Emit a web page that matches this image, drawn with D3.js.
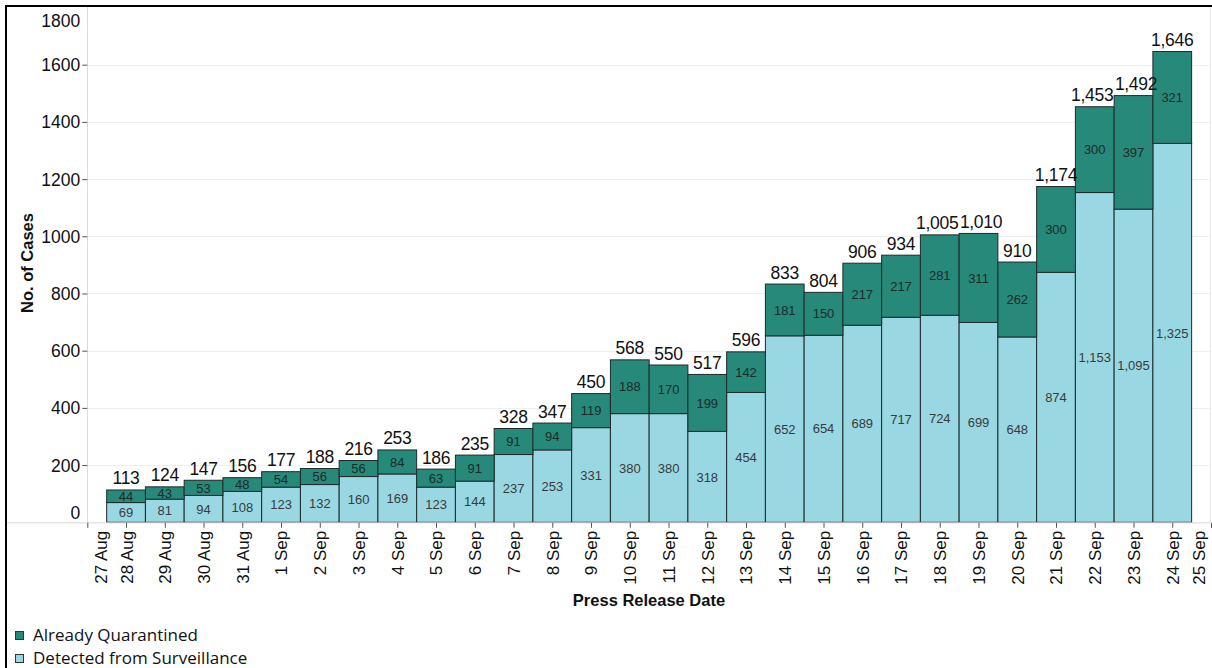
<!DOCTYPE html>
<html><head><meta charset="utf-8">
<script src="https://cdn.jsdelivr.net/npm/d3@7/dist/d3.min.js"></script>
<style>
body{margin:0;background:#fff;}
svg{display:block;font-family:"Liberation Sans",Arial,sans-serif;}
</style>
</head><body>
<svg id="c" width="1212" height="668"></svg>
<script>
const dates = ["2020-08-28","2020-08-29","2020-08-30","2020-08-31","2020-09-01","2020-09-02","2020-09-03","2020-09-04","2020-09-05","2020-09-06","2020-09-07","2020-09-08","2020-09-09","2020-09-10","2020-09-11","2020-09-12","2020-09-13","2020-09-14","2020-09-15","2020-09-16","2020-09-17","2020-09-18","2020-09-19","2020-09-20","2020-09-21","2020-09-22","2020-09-23","2020-09-24"];
const quarantined = [44,43,53,48,54,56,56,84,63,91,91,94,119,188,170,199,142,181,150,217,217,281,311,262,300,300,397,321];
const surveillance = [69,81,94,108,123,132,160,169,123,144,237,253,331,380,380,318,454,652,654,689,717,724,699,648,874,1153,1095,1325];
const yTicks = [0,200,400,600,800,1000,1200,1400,1600,1800];
const xTickDates = ["2020-08-27","2020-08-28","2020-08-29","2020-08-30","2020-08-31","2020-09-01","2020-09-02","2020-09-03","2020-09-04","2020-09-05","2020-09-06","2020-09-07","2020-09-08","2020-09-09","2020-09-10","2020-09-11","2020-09-12","2020-09-13","2020-09-14","2020-09-15","2020-09-16","2020-09-17","2020-09-18","2020-09-19","2020-09-20","2020-09-21","2020-09-22","2020-09-23","2020-09-24","2020-09-25"];
const xTickLabels = ["27 Aug","28 Aug","29 Aug","30 Aug","31 Aug","1 Sep","2 Sep","3 Sep","4 Sep","5 Sep","6 Sep","7 Sep","8 Sep","9 Sep","10 Sep","11 Sep","12 Sep","13 Sep","14 Sep","15 Sep","16 Sep","17 Sep","18 Sep","19 Sep","20 Sep","21 Sep","22 Sep","23 Sep","24 Sep","25 Sep"];
const seriesNames = ["Already Quarantined","Detected from Surveillance"];
const seriesColors = ["#26897a","#99d8e2"];

const svg = d3.select("#c");
const parse = d3.utcParse("%Y-%m-%d");
const fmt = d3.format(",");

const x = d3.scaleUtc().domain([parse(xTickDates[0]), parse(xTickDates[xTickDates.length-1])]).range([87.3, 1211]);
const y = d3.scaleLinear().domain([0,1800]).range([522.3, 7.5]);
const dayW = x(parse("2020-08-29")) - x(parse("2020-08-28"));

// frame
svg.append("line").attr("x1",5).attr("x2",1212).attr("y1",6).attr("y2",6).attr("stroke","#000").attr("stroke-width",2);
svg.append("line").attr("x1",6).attr("x2",6).attr("y1",5).attr("y2",668).attr("stroke","#000").attr("stroke-width",2);

// gridlines
svg.append("g").selectAll("line").data(yTicks.filter(v=>v>0 && v<1800)).join("line")
  .attr("x1",87.3).attr("x2",1211).attr("y1",d=>Math.round(y(d))+0.5).attr("y2",d=>Math.round(y(d))+0.5)
  .attr("stroke","#efefef").attr("stroke-width",1);

// axis lines
svg.append("line").attr("x1",87.5).attr("x2",87.5).attr("y1",7).attr("y2",522.3).attr("stroke","#dcdcdc");
svg.append("line").attr("x1",1210.5).attr("x2",1210.5).attr("y1",7).attr("y2",522.3).attr("stroke","#e8e8e8");

// bars
const data = dates.map((d,i)=>({date:parse(d), q:quarantined[i], s:surveillance[i], t:quarantined[i]+surveillance[i]}));
const bars = svg.append("g");
bars.selectAll("rect.s").data(data).join("rect").attr("class","s")
  .attr("x",d=>x(d.date)-dayW/2).attr("width",dayW)
  .attr("y",d=>y(d.s)).attr("height",d=>y(0)-y(d.s))
  .attr("fill",seriesColors[1]).attr("stroke","#1e2b2a").attr("stroke-width",1);
bars.selectAll("rect.q").data(data).join("rect").attr("class","q")
  .attr("x",d=>x(d.date)-dayW/2).attr("width",dayW)
  .attr("y",d=>y(d.t)).attr("height",d=>y(d.s)-y(d.t))
  .attr("fill",seriesColors[0]).attr("stroke","#1e2b2a").attr("stroke-width",1);

// baseline
svg.append("line").attr("x1",7).attr("x2",1211).attr("y1",522.8).attr("y2",522.8).attr("stroke","#d6d6d6");

// inner labels
const lab = svg.append("g").attr("font-size",13).attr("text-anchor","middle");
lab.selectAll("text.s").data(data).join("text")
  .attr("x",d=>x(d.date)).attr("y",d=>(y(0)+y(d.s))/2).attr("dy","0.36em")
  .attr("fill","#3a3a3a").text(d=>fmt(d.s));
lab.selectAll("text.q").data(data).join("text")
  .attr("x",d=>x(d.date)).attr("y",d=>(y(d.s)+y(d.t))/2).attr("dy","0.36em")
  .attr("fill","#1c2b29").text(d=>fmt(d.q));

// totals
const totals = svg.append("g").attr("font-size",17.5).attr("text-anchor","middle").attr("letter-spacing","-0.3px")
  .selectAll("text").data(data).join("text")
  .attr("x",d=>x(d.date)).attr("y",d=>y(d.t)-5.5).attr("fill","#111").text(d=>fmt(d.t));
// nudge apart adjacent totals that would collide
const tn = totals.nodes();
const shift = tn.map(()=>0);
for (let i=0;i<tn.length-1;i++){
  const a=tn[i], b=tn[i+1];
  const ya=+a.getAttribute("y"), yb=+b.getAttribute("y");
  if (Math.abs(ya-yb) > 15) continue;
  const wa=a.getComputedTextLength(), wb=b.getComputedTextLength();
  const xa=+a.getAttribute("x")+shift[i], xb=+b.getAttribute("x")+shift[i+1];
  const ov=(xa+wa/2+1.5)-(xb-wb/2);
  if (ov>0){ shift[i]-=ov/2; shift[i+1]+=ov/2; }
}
totals.attr("dx",(d,i)=>shift[i]);

// y axis
const yAxis = svg.append("g").attr("transform","translate(87.3,0)")
  .call(d3.axisLeft(y).tickValues(yTicks).tickSize(5).tickFormat(d3.format("d")));
yAxis.select(".domain").remove();
yAxis.selectAll(".tick line").attr("stroke","#555").attr("display",d=>(d===0||d===1800)?"none":null);
yAxis.selectAll(".tick text").attr("font-size",17.5).attr("fill","#111").attr("x",-7)
  .attr("font-family","Liberation Sans, Arial, sans-serif")
  .attr("dy",d=>d===1800?"1.1em":(d===0?"-0.22em":"0.34em"));

// x axis
const xAxis = svg.append("g").attr("transform","translate(0,522.8)")
  .call(d3.axisBottom(x).tickValues(xTickDates.map(parse)).tickSize(5).tickFormat((d,i)=>xTickLabels[i]));
xAxis.select(".domain").remove();
xAxis.selectAll(".tick line").attr("stroke","#555");
const nT = xTickDates.length;
xAxis.selectAll(".tick text").attr("font-size",17).attr("fill","#111")
  .attr("font-family","Liberation Sans, Arial, sans-serif")
  .attr("transform","rotate(-90)").attr("text-anchor","end")
  .attr("x",-8).attr("y",(d,i)=> i===0 ? 13 : (i===nT-1 ? -12 : 0)).attr("dy","0.35em");

// axis titles
svg.append("text").attr("transform","translate(27,263) rotate(-90)").attr("text-anchor","middle")
  .attr("dy","0.35em").attr("font-size",16.5).attr("font-weight","bold").attr("fill","#111").text("No. of Cases");
svg.append("text").attr("x",649).attr("y",600).attr("text-anchor","middle").attr("dy","0.35em")
  .attr("font-size",16.5).attr("font-weight","bold").attr("fill","#111").text("Press Release Date");

// legend
const lg = svg.append("g").selectAll("g").data(seriesNames).join("g")
  .attr("transform",(d,i)=>`translate(15,${631+i*23})`);
lg.append("rect").attr("width",8).attr("height",8).attr("x",0.5).attr("y",0.5)
  .attr("fill",(d,i)=>seriesColors[i]).attr("stroke","#333");
lg.append("text").attr("x",18).attr("y",4.5).attr("dy","0.35em").attr("font-size",17)
  .attr("font-family","Open Sans, sans-serif").attr("fill","#111").text(d=>d);
</script>
</body></html>
